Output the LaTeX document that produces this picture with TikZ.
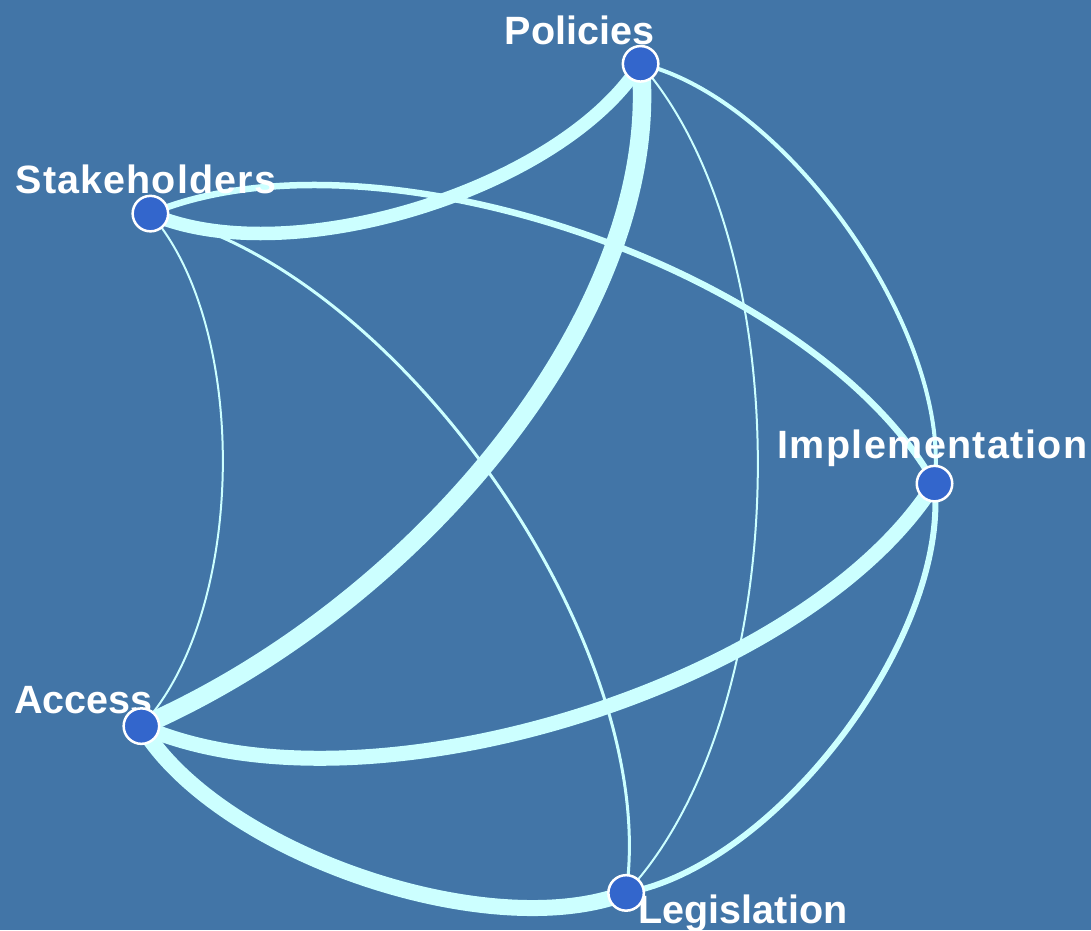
\documentclass[tikz,border=0pt]{standalone}
\usepackage{fontspec}
\setmainfont{Liberation Sans}
\usetikzlibrary{calc}
\definecolor{bgc}{HTML}{4275A7}
\definecolor{linkc}{HTML}{CCFFFF}
\definecolor{nodec}{HTML}{3366CC}
\pgfdeclarelayer{bg}
\pgfdeclarelayer{edges}
\pgfdeclarelayer{labels}
\pgfsetlayers{bg,edges,labels,main}
% #1 from, #2 to, #3 width, #4 a1, #5 k1, #6 a2, #7 k2
\newcommand\linkedge[7]{%
  \pgfmathsetmacro\lkRa{sqrt((#4)*(#4)+(#5)*(#5))}%
  \pgfmathsetmacro\lkAa{atan((#5)/(#4))}%
  \pgfmathsetmacro\lkRb{sqrt((#6)*(#6)+(#7)*(#7))}%
  \pgfmathsetmacro\lkAb{-1*atan((#7)/(#6))}%
  \draw[link, line width=#3] (#1.center) .. controls ($(#1.center)!\lkRa!\lkAa:(#2.center)$) and ($(#2.center)!\lkRb!\lkAb:(#1.center)$) .. (#2.center);%
}
\begin{document}
\begin{tikzpicture}[x=1pt,y=-1pt,
  vtx/.style={circle, fill=nodec, draw=white, line width=2.5pt, minimum size=35.5pt, inner sep=0pt},
  lbl/.style={text=white, font=\fontsize{39.5}{40}\selectfont\bfseries, anchor=base, inner sep=0pt},
  link/.style={draw=linkc}]
\begin{pgfonlayer}{bg}
\fill[bgc] (0,0) rectangle (1091,930);
\end{pgfonlayer}
\useasboundingbox (0,0) rectangle (1091,930);
\node[vtx] (P) at (640.6,63.8) {};
\node[vtx] (S) at (150.4,213.6) {};
\node[vtx] (I) at (934.5,483.6) {};
\node[vtx] (A) at (141.4,726.1) {};
\node[vtx] (L) at (626.1,892.9) {};
\begin{pgfonlayer}{labels}
\node[lbl] (tP) at (579.5,44.5) {Policies};
\node[lbl] (tS) at (146,193.5) {\addfontfeature{LetterSpace=2.8}Stakeholders};
\node[lbl] (tI) at (932.5,458.5) {\addfontfeature{LetterSpace=3.5}Implementation};
\node[lbl] (tA) at (83.5,713.5) {Access};
\node[lbl] (tL) at (743,923.5) {Legislation};
\end{pgfonlayer}
\begin{pgfonlayer}{edges}
\linkedge{S}{P}{13.5pt}{0.22}{-0.19}{0.22}{-0.19}
\linkedge{S}{I}{6.5pt}{0.22}{0.196}{0.22}{0.196}
\linkedge{P}{A}{18.5pt}{0.22}{0.2}{0.32}{0.18}
\linkedge{P}{L}{2pt}{0.22}{0.2}{0.22}{0.2}
\linkedge{P}{I}{4pt}{0.22}{0.196}{0.22}{0.196}
\linkedge{S}{A}{2pt}{0.22}{0.2}{0.22}{0.2}
\linkedge{S}{L}{3pt}{0.22}{0.207}{0.22}{0.207}
\linkedge{A}{I}{15pt}{0.22}{-0.19}{0.22}{-0.19}
\linkedge{A}{L}{16pt}{0.22}{-0.185}{0.22}{-0.185}
\linkedge{I}{L}{6pt}{0.22}{0.203}{0.22}{0.203}
\end{pgfonlayer}
\end{tikzpicture}
\end{document}
